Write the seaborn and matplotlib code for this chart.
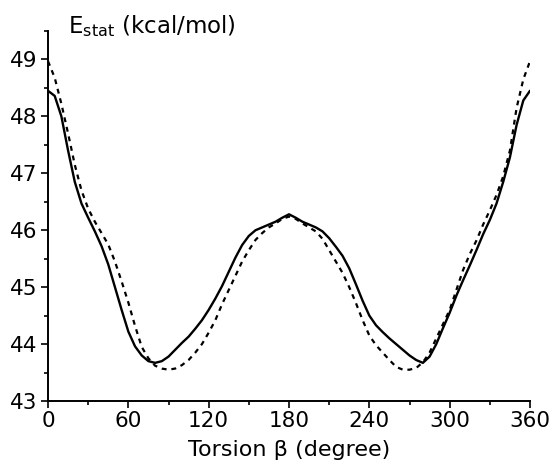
import numpy as np
import pandas as pd
import matplotlib
matplotlib.use("Agg")
import matplotlib.pyplot as plt
import seaborn as sns

torsion = [0, 5, 10, 15, 20, 25, 30, 35, 40, 45, 50, 55, 60, 65, 70, 75, 80, 85, 90,
           95, 100, 105, 110, 115, 120, 125, 130, 135, 140, 145, 150, 155, 160, 165,
           170, 175, 180, 185, 190, 195, 200, 205, 210, 215, 220, 225, 230, 235, 240,
           245, 250, 255, 260, 265, 270, 275, 280, 285, 290, 295, 300, 305, 310, 315,
           320, 325, 330, 335, 340, 345, 350, 355, 360]

e_solid = [48.45, 48.36, 48.00, 47.40, 46.85, 46.47, 46.22, 45.98, 45.72, 45.40,
           45.00, 44.60, 44.22, 43.96, 43.80, 43.70, 43.67, 43.70, 43.78, 43.90,
           44.02, 44.13, 44.27, 44.42, 44.60, 44.80, 45.02, 45.27, 45.52, 45.74,
           45.90, 46.00, 46.05, 46.10, 46.15, 46.22, 46.28, 46.22, 46.15, 46.10,
           46.05, 45.98, 45.86, 45.71, 45.55, 45.33, 45.05, 44.76, 44.50, 44.33,
           44.21, 44.10, 44.00, 43.90, 43.80, 43.72, 43.67, 43.78, 44.00, 44.28,
           44.55, 44.85, 45.12, 45.38, 45.65, 45.93, 46.18, 46.47, 46.85, 47.28,
           47.85, 48.28, 48.45]

e_dashed = [48.97, 48.68, 48.22, 47.70, 47.15, 46.70, 46.38, 46.15, 45.95, 45.75,
            45.45, 45.10, 44.73, 44.32, 43.95, 43.75, 43.62, 43.57, 43.55, 43.57,
            43.63, 43.72, 43.85, 44.00, 44.20, 44.42, 44.70, 44.95, 45.20, 45.45,
            45.65, 45.83, 45.95, 46.05, 46.12, 46.20, 46.24, 46.20, 46.12, 46.05,
            45.98, 45.85, 45.65, 45.45, 45.25, 45.00, 44.72, 44.42, 44.15, 43.98,
            43.85, 43.72, 43.60, 43.55, 43.55, 43.58, 43.68, 43.85, 44.10, 44.35,
            44.60, 44.95, 45.30, 45.58, 45.82, 46.10, 46.35, 46.62, 46.95, 47.40,
            48.15, 48.65, 48.97]

x_ticks = [0, 60, 120, 180, 240, 300, 360]
y_ticks = [43, 44, 45, 46, 47, 48, 49]

sns.set_theme(style="ticks")
plt.rcParams["font.family"] = ["DejaVu Sans"]
plt.rcParams["mathtext.fontset"] = "dejavusans"
plt.rcParams["text.color"] = "black"
plt.rcParams["axes.labelcolor"] = "black"
plt.rcParams["xtick.color"] = "black"
plt.rcParams["ytick.color"] = "black"

fig = plt.figure(figsize=(5.57, 4.69), dpi=100)
ax = fig.add_axes([48/557, 1-401/469, (530-48)/557, (401-31)/469])

df = pd.DataFrame({"torsion": torsion, "solid": e_solid, "dashed": e_dashed})
sns.lineplot(data=df, x="torsion", y="solid", ax=ax, color="black", lw=1.7)
sns.lineplot(data=df, x="torsion", y="dashed", ax=ax, color="black", lw=1.6,
             linestyle=(0, (2.2, 2.2)))

ax.set_xlim(0, 360)
ax.set_ylim(43, 49.5)
ax.set_xticks(x_ticks)
ax.set_yticks(y_ticks)
ax.set_xticks([30, 90, 150, 210, 270, 330], minor=True)
ax.set_yticks([43.5, 44.5, 45.5, 46.5, 47.5, 48.5, 49.5], minor=True)
ax.tick_params(axis="both", which="major", direction="out", length=5, width=1.2,
               labelsize=15.5, pad=2.5, colors="black")
ax.tick_params(axis="both", which="minor", direction="out", length=3, width=1.2)
for s in ["top", "right"]:
    ax.spines[s].set_visible(False)
for s in ["left", "bottom"]:
    ax.spines[s].set_linewidth(1.4)
    ax.spines[s].set_color("black")

ax.set_xlabel("Torsion β (degree)", fontsize=16, labelpad=6, color="black")
ax.set_ylabel(r"$\mathregular{E_{stat}}$ (kcal/mol)", fontsize=16.5, rotation=0,
              ha="left", va="baseline", color="black")
ax.yaxis.set_label_coords((68-48)/482, (401-33)/370)

fig.savefig("out.png", dpi=100, facecolor="white")
